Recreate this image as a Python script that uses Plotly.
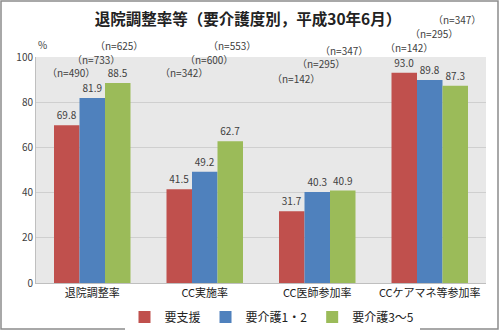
import plotly.graph_objects as go

categories = ["退院調整率", "CC実施率", "CC医師参加率", "CCケアマネ等参加率"]
series_names = ["要支援", "要介護1・2", "要介護3～5"]
yoshien = [69.8, 41.5, 31.7, 93.0]
kaigo12 = [81.9, 49.2, 40.3, 89.8]
kaigo35 = [88.5, 62.7, 40.9, 87.3]
n_yoshien = [490, 342, 142, 142]
n_kaigo12 = [733, 600, 295, 295]
n_kaigo35 = [625, 553, 347, 347]
colors = ["#C0504D", "#4F81BD", "#9BBB59"]

# label heights (percent of axis height) for n annotations per category, per series
n_label_y = [
    [93.0, 98.7, 104.9],
    [93.0, 98.7, 105.3],
    [90.7, 97.3, 103.0],
    [104.0, 110.6, 116.4],
]
n_xshift = [-21, 4, 27]

FONT = "Noto Sans CJK JP"
W, H = 500, 330
ML, MR, MT, MB = 36, 14, 57, 47
PW, PH = W - ML - MR, H - MT - MB

fig = go.Figure()
for name, vals, col in zip(series_names, [yoshien, kaigo12, kaigo35], colors):
    fig.add_trace(go.Bar(
        x=categories, y=vals, name=name,
        marker=dict(color=col, line=dict(width=0)),
        text=[f"{v:.1f}" for v in vals], textposition="outside",
        textfont=dict(size=10, color="#404040", family=FONT),
        cliponaxis=False,
    ))

annotations = []
for ci, cat in enumerate(categories):
    for si, ns in enumerate([n_yoshien, n_kaigo12, n_kaigo35]):
        annotations.append(dict(
            x=cat, y=n_label_y[ci][si] / 100.0, xref="x", yref="paper",
            xanchor="center", yanchor="middle",
            text=f"（n={ns[ci]}）", showarrow=False, xshift=n_xshift[si],
            font=dict(size=10, color="#404040", family=FONT),
        ))
annotations.append(dict(x=(42 - ML) / PW, y=1 + 12 / PH, xref="paper", yref="paper",
                        text="%", showarrow=False, xanchor="center", yanchor="middle",
                        font=dict(size=10, color="#404040", family=FONT)))

fig.update_layout(
    width=W, height=H,
    margin=dict(l=ML, r=MR, t=MT, b=MB, autoexpand=False),
    paper_bgcolor="white", plot_bgcolor="#E8E8E8",
    barmode="group", bargap=0.32, bargroupgap=0,
    title=dict(text="<b>退院調整率等（要介護度別，平成30年6月）</b>", x=0.496, xanchor="center",
               y=1 - 20 / H, yanchor="middle", yref="container",
               font=dict(size=15.5, color="#222222", family=FONT)),
    font=dict(family=FONT, size=10, color="#404040"),
    yaxis=dict(range=[0, 100], dtick=20, showgrid=True, gridcolor="#CFCFCF", gridwidth=1,
               zeroline=False, showline=True, linecolor="#BFBFBF", ticks="",
               tickfont=dict(size=10, color="#404040", family=FONT)),
    xaxis=dict(showline=True, linecolor="#BFBFBF", ticks="",
               tickfont=dict(size=11, color="#222222", family=FONT)),
    legend=dict(orientation="h", x=0.544, xanchor="center", xref="container",
                y=1 - 317 / H, yanchor="middle", yref="container",
                font=dict(size=12, color="#222222", family=FONT), itemwidth=30,
                traceorder="normal"),
    annotations=annotations,
    shapes=[dict(type="rect", xref="paper", yref="paper",
                 x0=(1 - ML) / PW, x1=(498 - ML) / PW,
                 y0=(H - MB - 329) / PH, y1=(H - MB - 1) / PH,
                 line=dict(color="#8C8C8C", width=1.5), layer="below")],
)
fig.write_html("out.html")
